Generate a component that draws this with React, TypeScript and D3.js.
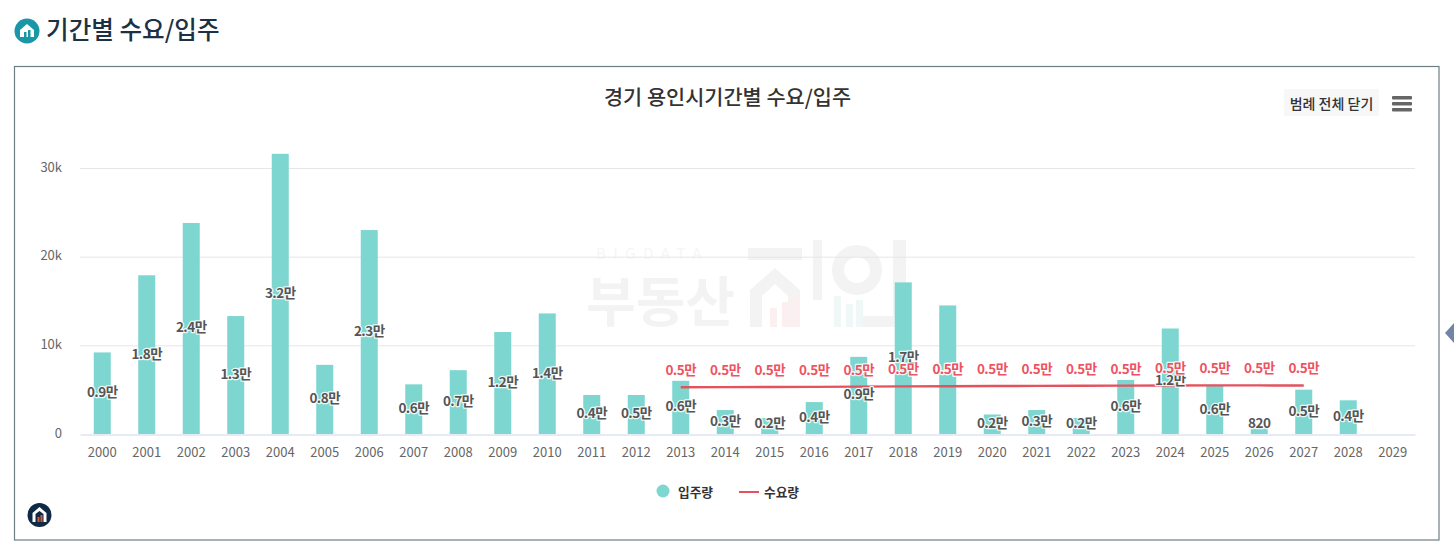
import { useEffect, useRef } from 'react';
import * as d3 from 'd3';

const years = d3.range(2000, 2030).map(String);

// 입주량 (bars), null where nothing is drawn
const supply: (number | null)[] = [
  9200, 17900, 23800, 13300, 31600, 7800, 23000, 5600, 7200, 11500,
  13600, 4400, 4400, 6000, 2700, 1800, 3600, 8700, 17100, 14500,
  2200, 2700, 1800, 6100, 11900, 5500, 820, 5000, 3800, null,
];
const supplyLabels = [
  '0.9만', '1.8만', '2.4만', '1.3만', '3.2만', '0.8만', '2.3만', '0.6만', '0.7만', '1.2만',
  '1.4만', '0.4만', '0.5만', '0.6만', '0.3만', '0.2만', '0.4만', '0.9만', '1.7만', '0.5만',
  '0.2만', '0.3만', '0.2만', '0.6만', '1.2만', '0.6만', '820', '0.5만', '0.4만', '',
];

// 수요량 (line) only runs 2013-2027
const demandYears = d3.range(2013, 2028).map(String);
const demand = [5270, 5290, 5300, 5320, 5340, 5370, 5390, 5410, 5430, 5450, 5460, 5470, 5480, 5480, 5470];
const demandLabel = '0.5만';

const yTicks = [0, 10000, 20000, 30000];

const KR = '"Noto Sans CJK KR", "Noto Sans", sans-serif';
const BAR = '#7dd6cf';
const RED = '#e4525e';
const RED_TEXT = '#ee5362';

export default function App() {
  const ref = useRef<SVGSVGElement>(null);

  useEffect(() => {
    if (!ref.current) return;
    const svg = d3.select(ref.current);
    svg.selectAll('*').remove();

    const x = d3.scaleBand().domain(years).range([80, 1415]);
    const y = d3.scaleLinear().domain([0, 30000]).range([434, 168]);
    const cx = (d: string) => x(d)! + x.bandwidth() / 2;

    // page header
    const head = svg.append('g').attr('transform', 'translate(27,31)');
    head.append('circle').attr('r', 12.5).attr('fill', '#1b95a8');
    head.append('path').attr('d', 'M-7,-1 L0,-7 L7,-1 L7,6 L-7,6 Z').attr('fill', '#fff');
    head.append('rect').attr('x', -3).attr('y', 1).attr('width', 2.5).attr('height', 5).attr('fill', '#1b95a8');
    head.append('rect').attr('x', 1).attr('y', -1).attr('width', 2.5).attr('height', 7).attr('fill', '#1b95a8');
    svg.append('text').attr('x', 46).attr('y', 39).attr('font-family', KR).attr('font-size', 24.6)
      .attr('font-weight', 500).attr('fill', '#1d3145').text('기간별 수요/입주');

    // chart frame
    svg.append('rect').attr('x', 14.5).attr('y', 66.5).attr('width', 1424.5).attr('height', 473.5)
      .attr('fill', '#fff').attr('stroke', '#6e7f82').attr('stroke-width', 1.2);
    svg.append('path').attr('d', 'M1454,323 L1445,333 L1454,343 Z').attr('fill', '#7285a8');

    // watermark
    const mark = svg.append('g').attr('fill', '#f3f3f3').attr('font-family', KR);
    mark.append('text').attr('x', 596).attr('y', 259).attr('font-size', 15).attr('letter-spacing', 7.5)
      .attr('fill', '#f6f6f6').text('BIGDATA');
    mark.append('text').attr('x', 586).attr('y', 322).attr('font-size', 54).attr('font-weight', 700).text('부동산');
    mark.append('path').attr('d', 'M748,248 H802 V260 H748 Z M750,327 V290 L775,268 L800,290 V327 H788 V296 L775,284 L762,296 V327 Z M813,240 H822 V300 H813 Z');
    mark.append('path').attr('d', 'M893,240 H906 V327 H860 V316 H893 Z');
    mark.append('circle').attr('cx', 857).attr('cy', 270).attr('r', 19).attr('fill', 'none').attr('stroke', '#f3f3f3').attr('stroke-width', 12);
    mark.append('g').selectAll('rect').data([[770, 308], [782, 302], [792, 296]]).join('rect')
      .attr('x', (d) => d[0]).attr('y', (d) => d[1]).attr('width', 7).attr('height', (d) => 327 - d[1]).attr('fill', '#fbf0ef');
    mark.append('g').selectAll('rect').data([[834, 296], [846, 304], [856, 300]]).join('rect')
      .attr('x', (d) => d[0]).attr('y', (d) => d[1]).attr('width', 7).attr('height', (d) => 327 - d[1]).attr('fill', '#f0f8f7');

    // title and export controls
    svg.append('text').attr('x', 727.5).attr('y', 105).attr('text-anchor', 'middle').attr('font-family', KR)
      .attr('font-size', 20.8).attr('font-weight', 500).attr('fill', '#333').text('경기 용인시기간별 수요/입주');
    svg.append('rect').attr('x', 1284).attr('y', 89).attr('width', 95).attr('height', 27).attr('rx', 2).attr('fill', '#f7f7f7');
    svg.append('text').attr('x', 1331.5).attr('y', 108.5).attr('text-anchor', 'middle').attr('font-family', KR)
      .attr('font-size', 14).attr('font-weight', 500).attr('fill', '#333').text('범례 전체 닫기');
    svg.append('g').selectAll('rect').data([96, 102, 108]).join('rect')
      .attr('x', 1392).attr('y', (d) => d).attr('width', 20).attr('height', 3.6).attr('rx', 1).attr('fill', '#666');

    // grid
    svg.append('g').selectAll('line').data(yTicks.slice(1)).join('line')
      .attr('x1', 80).attr('x2', 1415).attr('y1', (d) => y(d) + 0.5).attr('y2', (d) => y(d) + 0.5)
      .attr('stroke', '#e6e6e6');

    // axes
    const xAxis = svg.append('g').attr('transform', 'translate(0,434.5)')
      .call(d3.axisBottom(x).tickSize(0).tickPadding(13));
    xAxis.select('.domain').attr('stroke', '#ccd6eb');
    xAxis.selectAll('text').attr('font-family', KR).attr('font-size', 13).attr('fill', '#666');

    const yAxis = svg.append('g').attr('transform', 'translate(62,-1)')
      .call(d3.axisLeft(y).tickValues(yTicks).tickSize(0).tickPadding(0)
        .tickFormat((d) => (+d === 0 ? '0' : `${+d / 1000}k`)));
    yAxis.select('.domain').remove();
    yAxis.selectAll('text').attr('font-family', KR).attr('font-size', 13).attr('fill', '#666');

    // bars
    const rows = years.map((year, i) => ({ year, value: supply[i], label: supplyLabels[i] }))
      .filter((d) => d.value !== null);
    svg.append('g').selectAll('rect').data(rows).join('rect')
      .attr('x', (d) => cx(d.year) - 8.5).attr('width', 17)
      .attr('y', (d) => y(d.value!)).attr('height', (d) => 434 - y(d.value!))
      .attr('fill', BAR);

    // demand line
    const line = d3.line<string>().x((d) => cx(d)).y((_, i) => y(demand[i]));
    svg.append('path').datum(demandYears).attr('d', line).attr('fill', 'none')
      .attr('stroke', RED).attr('stroke-width', 2.4);

    // data labels
    const labelStyle = (sel: any, color: string) =>
      sel.attr('text-anchor', 'middle').attr('font-family', KR).attr('font-size', 13.5).attr('font-weight', 700)
        .attr('letter-spacing', -0.5).attr('fill', color).attr('stroke', '#fff').attr('stroke-width', 2.6)
        .attr('stroke-opacity', 0.85).attr('stroke-linejoin', 'round').attr('paint-order', 'stroke');

    svg.append('g').selectAll('text').data(rows).join('text')
      .call(labelStyle, '#555')
      .attr('x', (d) => cx(d.year))
      // centred on the bar, but pushed up to stay clear of the axis
      .attr('y', (d) => Math.min((y(d.value!) + 434) / 2, 424) + 4)
      .text((d) => d.label);

    svg.append('g').selectAll('text').data(demandYears).join('text')
      .call(labelStyle, RED_TEXT)
      .attr('x', (d) => cx(d))
      .attr('y', (_, i) => y(demand[i]) - 12)
      .text(demandLabel);

    // legend
    svg.append('circle').attr('cx', 663).attr('cy', 491).attr('r', 6.5).attr('fill', BAR);
    svg.append('line').attr('x1', 739).attr('x2', 759).attr('y1', 492).attr('y2', 492)
      .attr('stroke', RED).attr('stroke-width', 2);
    svg.append('g').selectAll('text').data([['입주량', 678], ['수요량', 764]] as [string, number][]).join('text')
      .attr('x', (d) => d[1]).attr('y', 497).attr('font-family', KR).attr('font-size', 12.7)
      .attr('font-weight', 700).attr('fill', '#333').text((d) => d[0]);

    // logo bottom-left
    const logo = svg.append('g').attr('transform', 'translate(39.5,515)');
    logo.append('circle').attr('r', 12).attr('fill', '#0f2a45');
    logo.append('path').attr('d', 'M-7,7 V-2 L0,-8 L7,-2 V7 H4 V-1 L0,-4 L-4,-1 V7 Z').attr('fill', '#fff');
    logo.append('rect').attr('x', -2).attr('y', 2).attr('width', 2).attr('height', 5).attr('fill', '#d9583a');
    logo.append('rect').attr('x', 1).attr('y', 0).attr('width', 2).attr('height', 7).attr('fill', '#d9583a');
  }, []);

  return (
    <svg
      ref={ref}
      width={1454}
      height={551}
      style={{ position: 'absolute', left: 0, top: 0, background: '#fff' }}
    />
  );
}
